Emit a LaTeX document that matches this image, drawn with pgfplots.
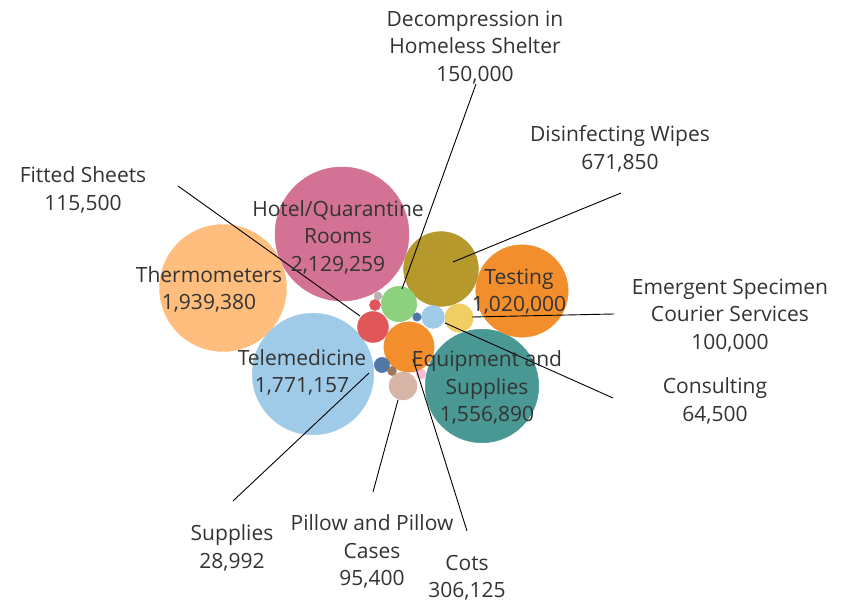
\documentclass[border=0pt]{standalone}
\usepackage{pgfplots}
\pgfplotsset{compat=1.18}
\usepackage{fontspec}
\setmainfont{Open Sans}
\definecolor{cpink}{HTML}{D37295}
\definecolor{clorange}{HTML}{FFBE7D}
\definecolor{clblue}{HTML}{A0CBE8}
\definecolor{cteal}{HTML}{499894}
\definecolor{corange}{HTML}{F28E2B}
\definecolor{colive}{HTML}{B6992D}
\definecolor{cgreen}{HTML}{8CD17D}
\definecolor{cred}{HTML}{E15759}
\definecolor{cyellow}{HTML}{F1CE63}
\definecolor{ctan}{HTML}{D7B5A6}
\definecolor{cdblue}{HTML}{4E79A7}
\definecolor{cgray}{HTML}{BAB0AC}
\definecolor{cbrown}{HTML}{9D7660}
\definecolor{cltpink}{HTML}{FABFD2}
\definecolor{ctext}{HTML}{333333}
\tikzset{lbl/.style={font=\fontsize{21}{27.5}\selectfont, text=ctext, align=center, inner sep=0pt, yshift=-2pt}}
\begin{document}
\begin{tikzpicture}
\begin{axis}[
  set layers,
  width=850pt, height=602pt, scale only axis,
  xmin=0, xmax=850, ymin=0, ymax=602, y dir=reverse,
  hide axis, clip=false,
  leader/.style={black, line width=0.9pt, mark=none, on layer=axis foreground},
]
\path (rel axis cs:0,0) rectangle (rel axis cs:1,1);
% bubbles: x, y (pixels), radius proportional to sqrt(value)
\addplot[only marks, mark=*, mark size=67.0, color=cpink, draw=none] coordinates {(342,234)}; % 2,129,259
\addplot[only marks, mark=*, mark size=63.5, color=clorange, draw=none] coordinates {(223,288)}; % 1,939,380
\addplot[only marks, mark=*, mark size=60.8, color=clblue, draw=none] coordinates {(313,374)}; % 1,771,157
\addplot[only marks, mark=*, mark size=5.0, color=cltpink, draw=none] coordinates {(421,374)};
\addplot[only marks, mark=*, mark size=56.8, color=cteal, draw=none] coordinates {(482,386)}; % 1,556,890
\addplot[only marks, mark=*, mark size=46.2, color=corange, draw=none] coordinates {(522,291)}; % 1,020,000
\addplot[only marks, mark=*, mark size=37.4, color=colive, draw=none] coordinates {(441,269)}; % 671,850
\addplot[only marks, mark=*, mark size=25.2, color=corange, draw=none] coordinates {(409,347)}; % 306,125
\addplot[only marks, mark=*, mark size=17.8, color=cgreen, draw=none] coordinates {(399,304)}; % 150,000
\addplot[only marks, mark=*, mark size=15.5, color=cred, draw=none] coordinates {(373,327)}; % 115,500
\addplot[only marks, mark=*, mark size=14.2, color=cyellow, draw=none] coordinates {(459,318)}; % 100,000
\addplot[only marks, mark=*, mark size=14.0, color=ctan, draw=none] coordinates {(403,386)}; % 95,400
\addplot[only marks, mark=*, mark size=11.5, color=clblue, draw=none] coordinates {(433,317)}; % 64,500
\addplot[only marks, mark=*, mark size=7.7, color=cdblue, draw=none] coordinates {(382,365)}; % 28,992
\addplot[only marks, mark=*, mark size=5.6, color=cred, draw=none] coordinates {(375,305)};
\addplot[only marks, mark=*, mark size=4.0, color=cgray, draw=none] coordinates {(378,296)};
\addplot[only marks, mark=*, mark size=4.3, color=cdblue, draw=none] coordinates {(417,317)};
\addplot[only marks, mark=*, mark size=4.6, color=cbrown, draw=none] coordinates {(392,371)};
% leader lines
\addplot[leader] coordinates {(476,84) (402,289)};
\addplot[leader] coordinates {(621,193) (453,262)};
\addplot[leader] coordinates {(178,186) (360,316)};
\addplot[leader] coordinates {(614,314) (472,317)};
\addplot[leader] coordinates {(613,398) (445,323)};
\addplot[leader] coordinates {(467,531) (413,359)};
\addplot[leader] coordinates {(373,492) (398,400)};
\addplot[leader] coordinates {(233,501) (369,373)};
% labels
\begin{pgfonlayer}{axis foreground}
\node[lbl] at (axis cs:475,45.5) {Decompression in\\Homeless Shelter\\150,000};
\node[lbl] at (axis cs:620,147) {Disinfecting Wipes\\671,850};
\node[lbl] at (axis cs:83,188) {Fitted Sheets\\115,500};
\node[lbl] at (axis cs:338,235) {Hotel/Quarantine\\Rooms\\2,129,259};
\node[lbl] at (axis cs:209,287.5) {Thermometers\\1,939,380};
\node[lbl] at (axis cs:519,289.5) {Testing\\1,020,000};
\node[lbl] at (axis cs:730,313.5) {Emergent Specimen\\Courier Services\\100,000};
\node[lbl] at (axis cs:302,370.5) {Telemedicine\\1,771,157};
\node[lbl] at (axis cs:487,385.5) {Equipment and\\Supplies\\1,556,890};
\node[lbl] at (axis cs:715,399) {Consulting\\64,500};
\node[lbl] at (axis cs:232,546) {Supplies\\28,992};
\node[lbl] at (axis cs:372,549.5) {Pillow and Pillow\\Cases\\95,400};
\node[lbl] at (axis cs:467,575.5) {Cots\\306,125};
\end{pgfonlayer}
\end{axis}
\end{tikzpicture}
\end{document}
